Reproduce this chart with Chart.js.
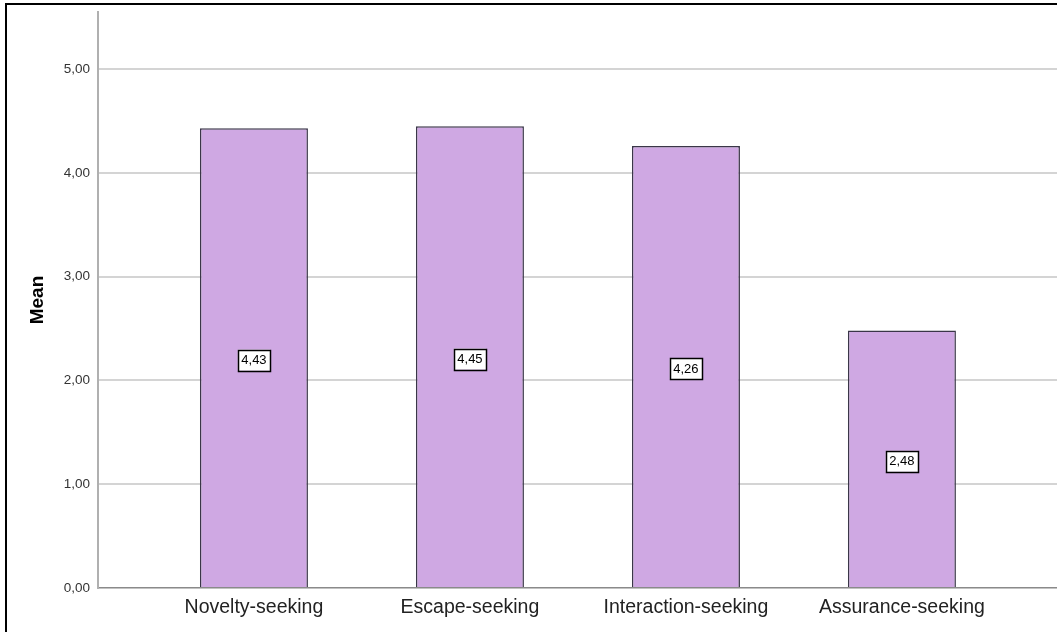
<!DOCTYPE html>
<html>
<head>
<meta charset="utf-8">
<script src="https://cdn.jsdelivr.net/npm/chart.js@4"></script>
<style>
  html, body { margin: 0; padding: 0; background: #fff; }
  #wrap { position: relative; width: 1057px; height: 632px; }
  #frame { position: absolute; left: 5px; top: 3px; right: -10px; bottom: -10px;
           border-left: 2px solid #000; border-top: 2px solid #000; pointer-events: none; }
  canvas { position: absolute; left: 0; top: 0; }
</style>
</head>
<body>
<div id="wrap">
  <canvas id="c" width="1057" height="632"></canvas>
  <div id="frame"></div>
</div>
<script>
const categories = ['Novelty-seeking', 'Escape-seeking', 'Interaction-seeking', 'Assurance-seeking'];
const meanValues = [4.43, 4.45, 4.26, 2.48];
const yTickValues = [0, 1, 2, 3, 4, 5];
const yAxisTitle = 'Mean';

const fmt = v => v.toFixed(2).replace('.', ',');

const labelPlugin = {
  id: 'boxLabels',
  afterDatasetsDraw(chart) {
    const ctx = chart.ctx;
    const meta = chart.getDatasetMeta(0);
    const yScale = chart.scales.y;
    ctx.save();
    ctx.font = '13px "Liberation Sans", Arial, sans-serif';
    ctx.textAlign = 'center';
    ctx.textBaseline = 'middle';
    meta.data.forEach((el, i) => {
      const v = meanValues[i];
      const cx = el.x;
      const cy = yScale.getPixelForValue(v / 2) + 2;
      const txt = fmt(v);
      const w = ctx.measureText(txt).width + 7;
      const h = 21;
      ctx.fillStyle = '#fff';
      ctx.fillRect(cx - w / 2, cy - h / 2, w, h);
      ctx.strokeStyle = '#000';
      ctx.lineWidth = 1.5;
      ctx.strokeRect(Math.round(cx - w / 2) + 0.5, Math.round(cy - h / 2) + 0.5, Math.round(w), h);
      ctx.fillStyle = '#000';
      ctx.fillText(txt, cx, cy + 0.5);
    });
    ctx.restore();
  }
};

new Chart(document.getElementById('c'), {
  type: 'bar',
  data: {
    datasets: [{
      data: meanValues.map((v, i) => ({ x: i, y: v })),
      backgroundColor: '#cfa8e3',
      borderColor: '#3a3648',
      borderWidth: 1.5,
      barPercentage: 0.5,
      categoryPercentage: 1.0
    }]
  },
  options: {
    responsive: false,
    animation: false,
    devicePixelRatio: 1,
    layout: { padding: { top: 12, left: 0, right: 0, bottom: 0 } },
    plugins: { legend: { display: false }, tooltip: { enabled: false } },
    scales: {
      x: {
        type: 'linear',
        offset: false,
        min: -0.722,
        max: 3.718,
        afterBuildTicks(scale) { scale.ticks = categories.map((c, i) => ({ value: i })); },
        afterFit(scale) { scale.height = 44; scale.paddingLeft = 0; scale.paddingRight = 0; },
        ticks: {
          callback: v => categories[v],
          font: { family: '"Liberation Sans", Arial, sans-serif', size: 19.5 },
          color: '#222',
          padding: 8,
          maxRotation: 0,
          autoSkip: false
        },
        grid: { display: false, drawTicks: false, offset: false },
        border: { display: true, color: '#8a8a8a', width: 1.2 }
      },
      y: {
        min: 0,
        max: 5.55,
        afterBuildTicks(scale) { scale.ticks = yTickValues.map(v => ({ value: v })); },
        afterFit(scale) { scale.width = 98; scale.paddingTop = 0; scale.paddingBottom = 0; },
        ticks: {
          callback: v => fmt(v),
          font: { family: '"Liberation Sans", Arial, sans-serif', size: 13.5 },
          color: '#333',
          padding: 8
        },
        grid: { color: '#d4d4d4', lineWidth: 2, drawTicks: false },
        border: { display: true, color: '#b0b0b0', width: 2 },
        title: {
          display: true,
          text: yAxisTitle,
          font: { family: '"Liberation Sans", Arial, sans-serif', size: 19, weight: 'bold' },
          color: '#000',
          padding: { top: 26, bottom: 0 }
        }
      }
    }
  },
  plugins: [labelPlugin]
});
</script>
</body>
</html>
